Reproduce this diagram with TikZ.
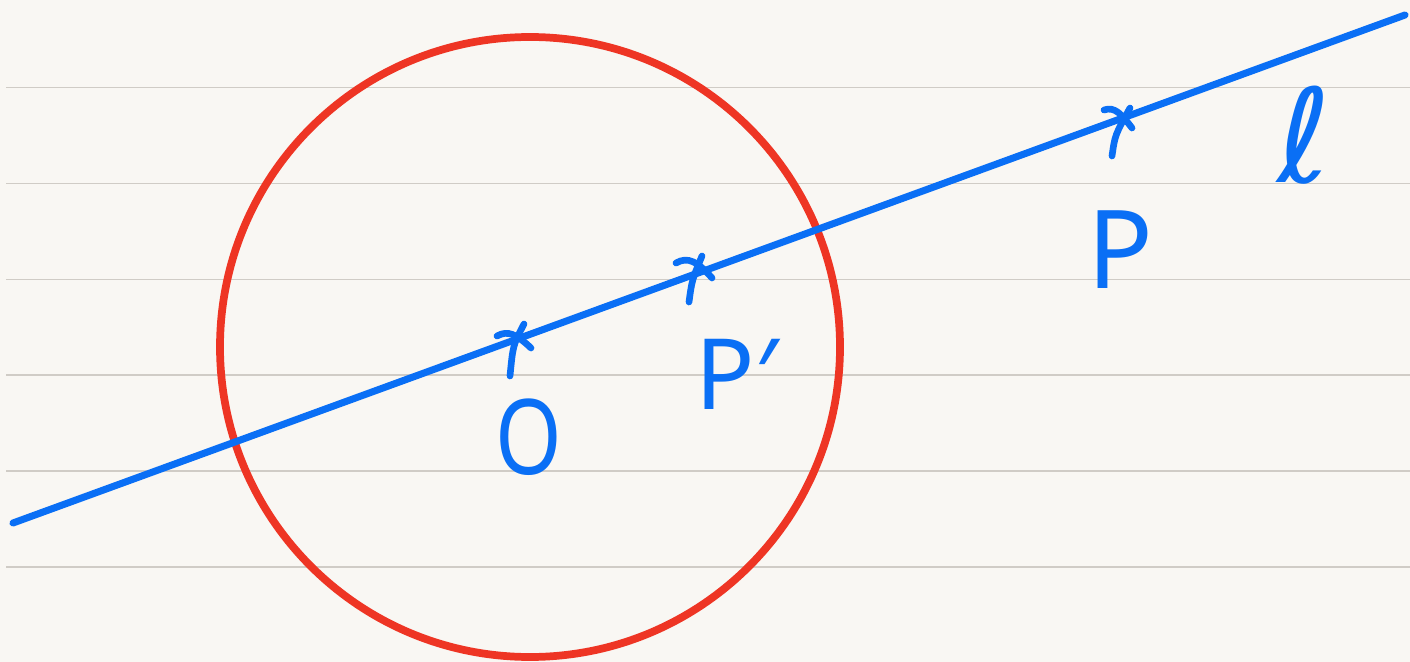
\documentclass[tikz,border=0pt]{standalone}
\usepackage{fontspec}
\setmainfont{Noto Sans}
\newfontfamily\symfont{DejaVu Sans}
\definecolor{paper}{HTML}{F9F7F3}
\definecolor{ruled}{HTML}{D0CCC6}
\definecolor{penblue}{HTML}{0A6FF5}
\definecolor{penred}{HTML}{EE3524}
\tikzset{
  ruling/.style={ruled,line width=0.9pt},
  lineL/.style={penblue,line width=4pt,line cap=round},
  crossmark/.style={penblue,line width=3.8pt,line cap=round,line join=round},
  circ/.style={penred,line width=4.4pt},
  lbl/.style={penblue,inner sep=0pt}
}
\begin{document}
\begin{tikzpicture}[x=0.02cm,y=-0.02cm]
\fill[paper] (0,0) rectangle (1410,662);
\useasboundingbox (0,0) rectangle (1410,662);
% ruled lines
\foreach \y in {87.5,183.3,279.3,375,471,567}
  \draw[ruling] (6,\y) -- (1410,\y);

% circle
\draw[circ] (530,347) circle (310);

% line l
\coordinate (lA) at (13,523);
\coordinate (lB) at (1405,15);
\draw[lineL] (lA) -- (lB);

% marks
\draw[crossmark] (510,376) .. controls (513,345) .. (524,324);
\draw[crossmark] (497,336) .. controls (508,330) and (516,334) .. (531,348);
\draw[crossmark] (689,302) .. controls (692,280) .. (702,256);
\draw[crossmark] (676,263) .. controls (688,256) and (698,262) .. (712,278);
\draw[crossmark] (1112,156) .. controls (1115,135) .. (1130,108);
\draw[crossmark] (1104,110) .. controls (1115,106) and (1122,115) .. (1132,128);

% labels
\node[lbl,font=\bfseries\fontsize{54}{54}\selectfont,xscale=0.9,yscale=1.1] (labO) at (529,437) {O};
\node[lbl,font=\bfseries\fontsize{56}{56}\selectfont] (labPp) at (737,374) {P′};
\node[lbl,font=\bfseries\fontsize{62}{62}\selectfont] (labP) at (1120,250) {P};
\node[lbl,font=\symfont\fontsize{74}{74}\selectfont] (labl) at (1304,135) {ℓ};
\end{tikzpicture}
\end{document}
